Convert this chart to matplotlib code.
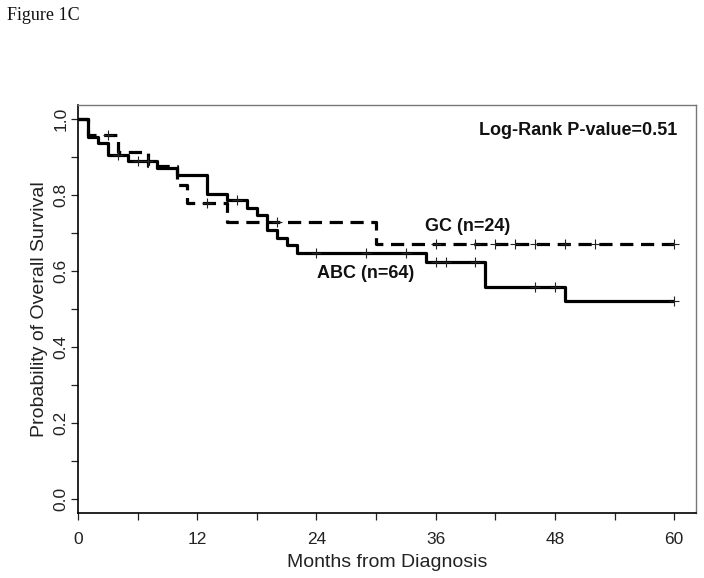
import numpy as np
import matplotlib
matplotlib.use("Agg")
import matplotlib.pyplot as plt
from matplotlib import font_manager

# ---- data ----
abc_times = [0, 1, 2, 3, 5, 8, 10, 13, 15, 17, 18, 19, 20, 21, 22, 35, 41, 49]
abc_surv = [1.0, 0.953, 0.9375, 0.906, 0.889, 0.871, 0.854, 0.802, 0.786, 0.767,
            0.748, 0.708, 0.688, 0.668, 0.647, 0.623, 0.557, 0.521]
abc_censor = [4, 6, 7, 16, 24, 29, 33, 36, 37, 40, 46, 48, 60]

gc_times = [0, 1, 4, 7, 10, 11, 15, 30]
gc_surv = [1.0, 0.958, 0.914, 0.876, 0.826, 0.779, 0.728, 0.672]
gc_censor = [3, 13, 20, 36, 40, 42, 44, 46, 49, 52, 60]

x_ticks = [0, 12, 24, 36, 48, 60]
y_ticks = [0.0, 0.2, 0.4, 0.6, 0.8, 1.0]
t_end = 60

names = {f.name for f in font_manager.fontManager.ttflist}
sans = 'Liberation Sans Narrow' if 'Liberation Sans Narrow' in names else 'Liberation Sans'
plt.rcParams['font.family'] = [sans, 'DejaVu Sans']
plt.rcParams['lines.scale_dashes'] = False

fig = plt.figure(figsize=(7.04, 5.78), dpi=100)
ax = fig.add_axes([78/704, 65/578, (696-78)/704, (513-105)/578])


def surv_at(times, surv, t):
    idx = np.searchsorted(times, t, side='right') - 1
    return surv[idx]


# step curves
ax.step(abc_times + [t_end], abc_surv + [abc_surv[-1]], where='post',
        color='black', lw=2.3, solid_capstyle='butt')
ax.step(gc_times + [t_end], gc_surv + [gc_surv[-1]], where='post',
        color='black', lw=2.3, dashes=(9.5, 5.5), dash_capstyle='butt')

# censor marks
ax.plot(abc_censor, [surv_at(abc_times, abc_surv, t) for t in abc_censor], '+',
        color='#222222', ms=7, mew=0.8, linestyle='none')
ax.plot(gc_censor, [surv_at(gc_times, gc_surv, t) for t in gc_censor], '+',
        color='#222222', ms=7, mew=0.8, linestyle='none')

ax.set_xlim(0, 62.2)
ax.set_ylim(-0.037, 1.037)

ax.set_xticks(x_ticks)
ax.set_xticks([6, 18, 30, 42, 54], minor=True)
ax.set_yticks(y_ticks)
ax.set_yticks([0.1, 0.3, 0.5, 0.7, 0.9], minor=True)
ax.set_yticklabels([f"{v:.1f}" for v in y_ticks], rotation=90, va='center')
ax.tick_params(axis='both', which='both', direction='out', length=5, width=0.9,
               labelsize=12.5, colors='#222222')
ax.tick_params(axis='x', pad=9)
ax.tick_params(axis='y', pad=2)

for s in ['left', 'bottom']:
    ax.spines[s].set_color('black')
    ax.spines[s].set_linewidth(1.2)
for s in ['top', 'right']:
    ax.spines[s].set_color('#777777')
    ax.spines[s].set_linewidth(1.0)

ax.set_xlabel("Months from Diagnosis", fontsize=14, color='#222222', labelpad=5)
ax.set_ylabel("Probability of Overall Survival", fontsize=14, color='#222222', labelpad=4)

ax.text(60.3, 0.971, "Log-Rank P-value=0.51", ha='right', va='center',
        fontsize=13, fontweight='bold', color='#111111')
ax.text(34.9, 0.716, "GC (n=24)", ha='left', va='center',
        fontsize=13, fontweight='bold', color='#111111')
ax.text(24.1, 0.593, "ABC (n=64)", ha='left', va='center',
        fontsize=13, fontweight='bold', color='#111111')

fig.text(7/704, 1 - 15/578, "Figure 1C", ha='left', va='center',
         fontsize=13, family=['Liberation Serif', 'DejaVu Serif'], color='#111111')

fig.savefig("out.png", dpi=100)
